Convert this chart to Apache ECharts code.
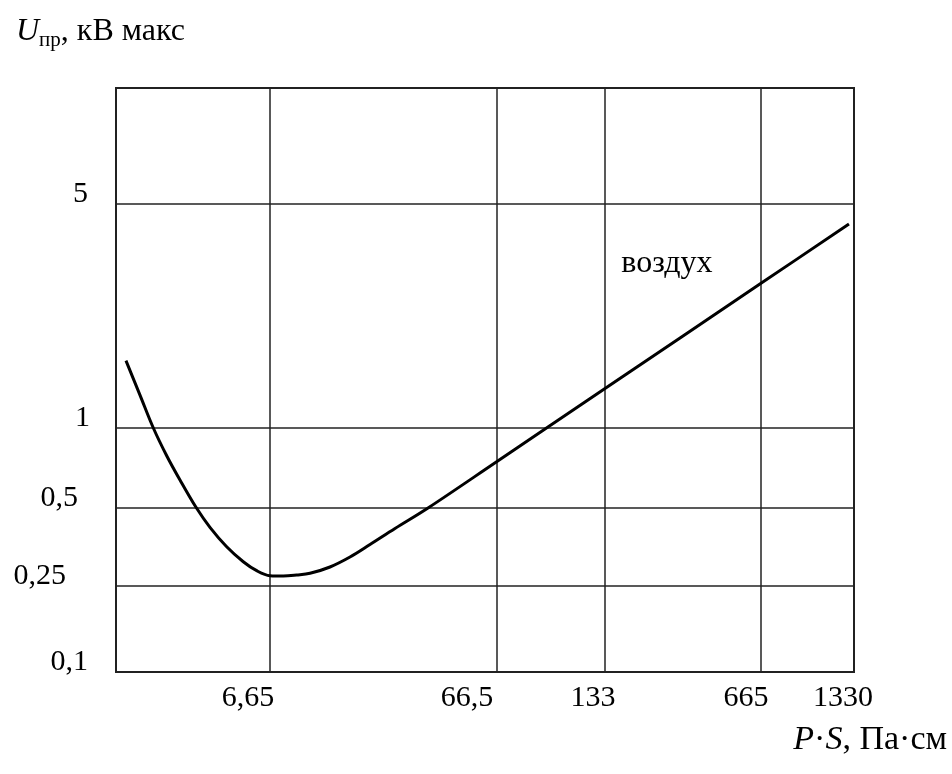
<!DOCTYPE html>
<html>
<head>
<meta charset="utf-8">
<script src="https://cdn.jsdelivr.net/npm/echarts@6/dist/echarts.min.js"></script>
<style>
  html, body { margin: 0; padding: 0; background: #fff; }
  #chart { width: 952px; height: 774px; }
</style>
</head>
<body>
<div id="chart"></div>
<script>
// Breakdown voltage of air against the product P·S (Paschen curve)
const psValues = [1.476, 1.709, 1.965, 2.259, 2.596, 3.069, 3.551, 4.229, 5.030, 5.787, 6.65, 7.611, 8.717, 9.978, 12.22, 14.97, 18.34, 23.63, 33.03, 66.5, 90.5, 133, 665, 1281];
const uValues  = [1.622, 1.267, 1.00, 0.7865, 0.6373, 0.503, 0.4212, 0.3544, 0.3102, 0.2864, 0.2740, 0.2732, 0.2757, 0.2799, 0.2960, 0.3234, 0.3614, 0.4167, 0.500, 0.748, 0.991, 1.328, 2.827, 4.331];

const xTickValues = [1.33, 6.65, 66.5, 133, 665, 1330];
const xTickLabels = ['', '6,65', '66,5', '133', '665', '1330'];
const yTickValues = [0.1, 0.25, 0.5, 1, 5, 10];
const yTickLabels = ['0,1', '0,25', '0,5', '1', '5', ''];

const curveName = 'воздух';
const curveNameAt = [252, 3.27];

// Axis layout: grid lines sit at fixed spacings; between two grid lines
// values are placed on a log scale.
const xTickPos = [0, 154, 381, 489, 645, 738];
const yTickPos = [0, 86, 164, 244, 468, 584];
// per-label nudges (px): x labels shift left, y labels sit further from the axis
const xLabelShift = [0, 22, 30, 12, 15, 11];
const yLabelPad = [2, 24, 12, 0, 2, 0];

function makeScale(values, pos) {
  const logs = values.map(Math.log10);
  return v => {
    const l = Math.log10(v);
    let i = 0;
    while (i < logs.length - 2 && l > logs[i + 1]) i++;
    const t = (l - logs[i]) / (logs[i + 1] - logs[i]);
    return pos[i] + t * (pos[i + 1] - pos[i]);
  };
}
const sx = makeScale(xTickValues, xTickPos);
const sy = makeScale(yTickValues, yTickPos);

const FONT = 'Liberation Serif';
const FS_TICK = 30;
const FS_TEXT = 32;
const curveData = psValues.map((p, i) => [sx(p), sy(uValues[i])]);

const xRich = {}, yRich = {};
xTickLabels.forEach((t, i) => {
  xRich['x' + i] = { fontFamily: FONT, fontSize: FS_TICK, color: '#000', padding: [0, 2 * xLabelShift[i], 0, 0] };
});
yTickLabels.forEach((t, i) => {
  yRich['y' + i] = { fontFamily: FONT, fontSize: FS_TICK, color: '#000', padding: [0, yLabelPad[i], 20, 0] };
});

const gridColor = '#222';

const chart = echarts.init(document.getElementById('chart'), null, { renderer: 'canvas' });
chart.setOption({
  animation: false,
  backgroundColor: '#fff',
  grid: {
    left: 116, top: 88, right: 98, bottom: 102,
    show: true, borderColor: gridColor, borderWidth: 2, backgroundColor: 'transparent'
  },
  xAxis: {
    type: 'value',
    min: xTickPos[0], max: xTickPos[xTickPos.length - 1],
    axisLine: { show: false },
    axisTick: { show: false, customValues: xTickPos },
    splitLine: { show: true, lineStyle: { color: gridColor, width: 1.5 } },
    axisLabel: {
      customValues: xTickPos,
      margin: 11,
      verticalAlign: 'top',
      formatter: v => {
        const i = xTickPos.indexOf(v);
        return i >= 0 && xTickLabels[i] ? '{x' + i + '|' + xTickLabels[i] + '}' : '';
      },
      rich: xRich
    }
  },
  yAxis: {
    type: 'value',
    min: yTickPos[0], max: yTickPos[yTickPos.length - 1],
    axisLine: { show: false },
    axisTick: { show: false, customValues: yTickPos },
    splitLine: { show: true, lineStyle: { color: gridColor, width: 1.5 } },
    axisLabel: {
      customValues: yTickPos,
      margin: 26,
      formatter: v => {
        const i = yTickPos.indexOf(v);
        return i >= 0 && yTickLabels[i] ? '{y' + i + '|' + yTickLabels[i] + '}' : '';
      },
      rich: yRich
    }
  },
  series: [
    {
      type: 'line',
      name: curveName,
      data: curveData,
      showSymbol: false,
      smooth: 0.35,
      silent: true,
      lineStyle: { color: '#000', width: 3 }
    },
    {
      type: 'scatter',
      data: [[sx(curveNameAt[0]), sy(curveNameAt[1])]],
      symbolSize: 0,
      silent: true,
      itemStyle: { color: '#000', opacity: 1 },
      label: {
        show: true, position: 'inside', formatter: curveName,
        fontFamily: FONT, fontSize: FS_TEXT, color: '#000', opacity: 1,
        textBorderWidth: 0, textBorderColor: 'transparent'
      }
    }
  ],
  graphic: [
    {
      type: 'text', left: 16, top: 16,
      style: {
        text: '{u|U}{s|пр}{t|, кВ макс}',
        rich: {
          u: { fontFamily: FONT, fontSize: FS_TEXT, fontStyle: 'italic', color: '#000', lineHeight: 38, verticalAlign: 'middle' },
          s: { fontFamily: FONT, fontSize: 21, color: '#000', lineHeight: 21, verticalAlign: 'bottom' },
          t: { fontFamily: FONT, fontSize: FS_TEXT, color: '#000', lineHeight: 38, verticalAlign: 'middle' }
        }
      }
    },
    {
      type: 'text', right: 5, top: 723,
      style: {
        text: '{i|P}{t|·}{i|S}{t|, Па·см}',
        rich: {
          i: { fontFamily: FONT, fontSize: 34, fontStyle: 'italic', color: '#000' },
          t: { fontFamily: FONT, fontSize: 34, color: '#000' }
        }
      }
    }
  ]
});
</script>
</body>
</html>
